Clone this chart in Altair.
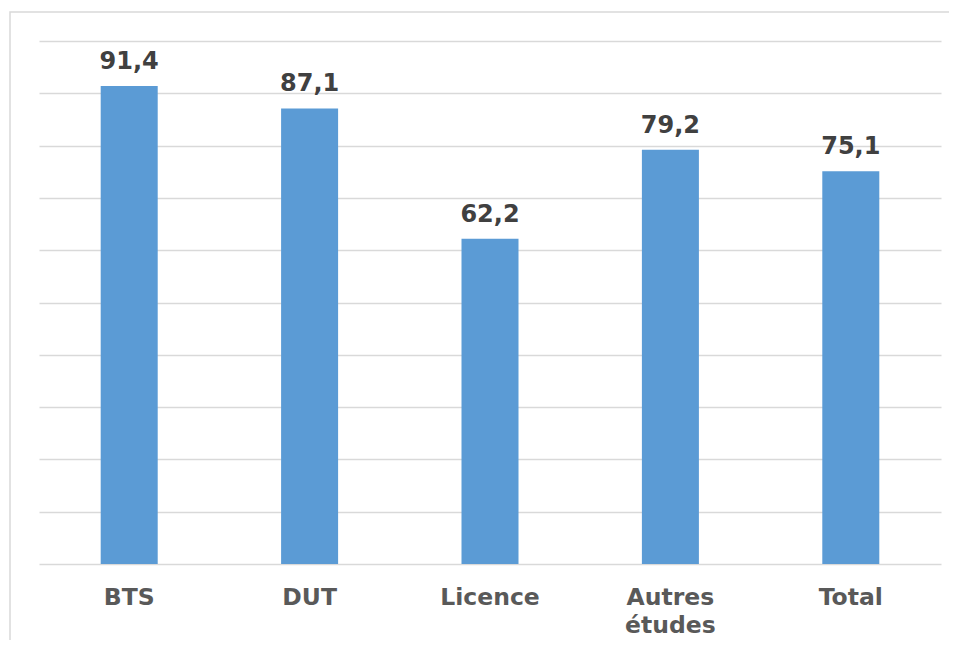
import altair as alt
import pandas as pd

categories = ["BTS", "DUT", "Licence", "Autres études", "Total"]
values = [91.4, 87.1, 62.2, 79.2, 75.1]

df = pd.DataFrame({"cat": categories, "val": values})
df["lab"] = [f"{v:.1f}".replace(".", ",") for v in values]

FONT = "DejaVu Sans"

x_enc = alt.X(
    "cat:N",
    sort=categories,
    title=None,
    scale=alt.Scale(paddingInner=0.684, paddingOuter=0.342),
    axis=alt.Axis(
        labelAngle=0,
        labelFont=FONT,
        labelFontSize=23.5,
        labelFontWeight="bold",
        labelColor="#595959",
        labelPadding=21,
        labelLineHeight=28,
        labelExpr="datum.label == 'Autres études' ? ['Autres', 'études'] : datum.label",
        domain=False,
        ticks=False,
        grid=False,
    ),
)
y_enc = alt.Y(
    "val:Q",
    title=None,
    scale=alt.Scale(domain=[0, 100], nice=False),
    axis=alt.Axis(
        values=list(range(0, 101, 10)),
        labels=False,
        ticks=False,
        domain=False,
        grid=True,
        gridColor="#d9d9d9",
        gridWidth=1.5,
    ),
)

base = alt.Chart(df)
bars = base.mark_bar(color="#5b9bd5").encode(x=x_enc, y=y_enc)
text = base.mark_text(
    font=FONT, fontSize=24, fontWeight="bold", color="#404040",
    baseline="bottom", dy=-12,
).encode(x=alt.X("cat:N", sort=categories), y="val:Q", text="lab:N")

border = alt.Chart(pd.DataFrame({"a": [0]})).mark_rect(
    fill=None, stroke="#d9d9d9", strokeWidth=1.5
).encode(
    x=alt.value(-29), x2=alt.value(960), y=alt.value(-29), y2=alt.value(700)
)

chart = alt.layer(border, bars, text).properties(
    width=902,
    height=523,
    autosize=alt.AutoSizeParams(type="none"),
    padding={"left": 31, "top": 33, "right": 8, "bottom": 76},
).configure_view(stroke=None)

chart.save("out.html", embed_options={"renderer": "svg", "actions": False})
